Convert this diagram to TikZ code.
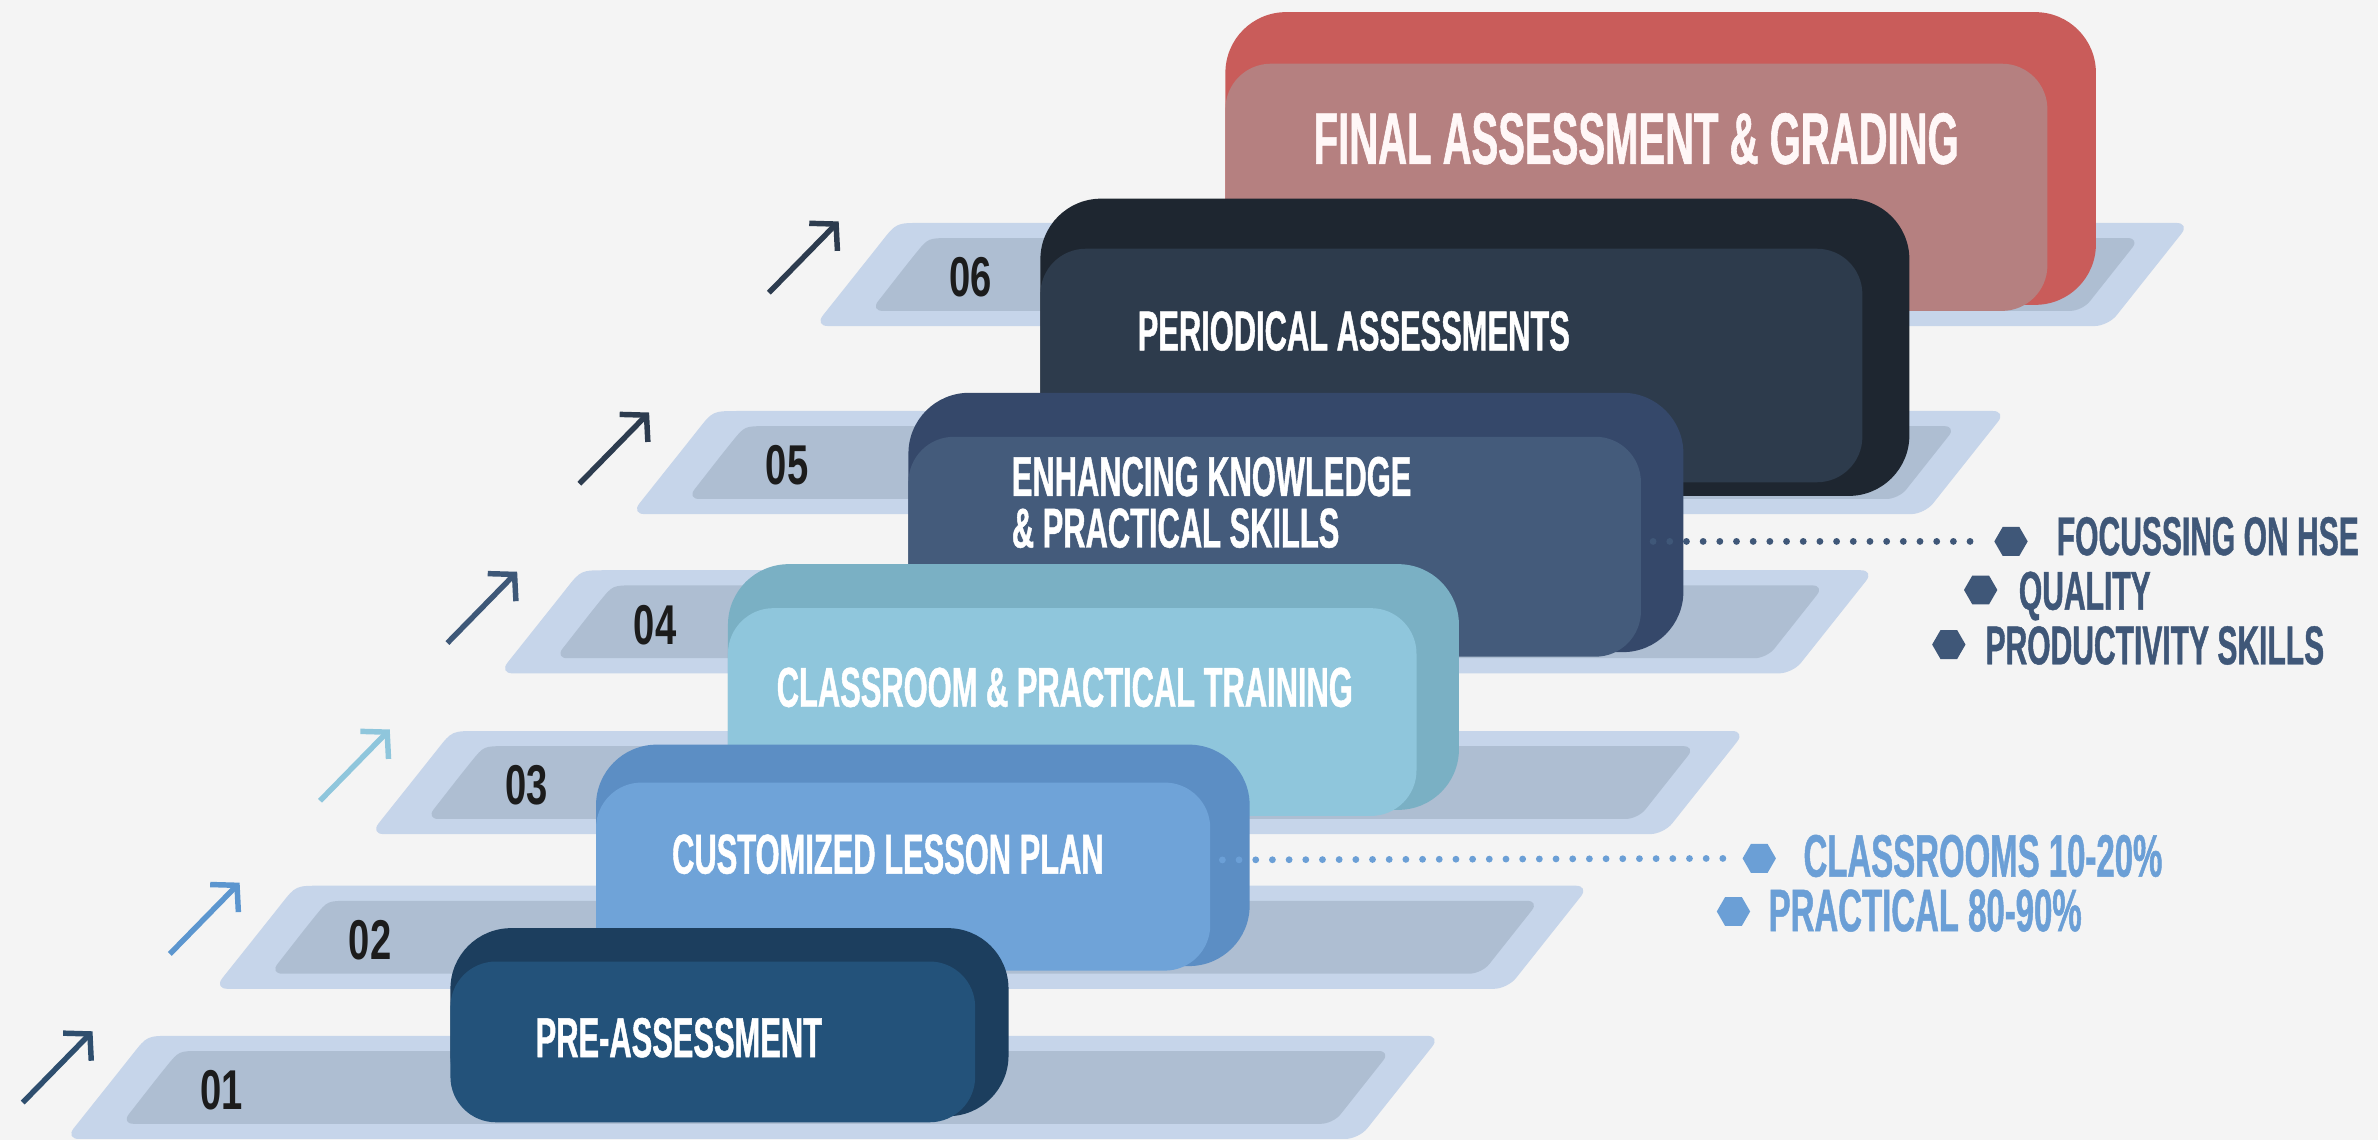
\documentclass[tikz,border=0pt]{standalone}
\usepackage{fontspec}
\newfontfamily\condfont{Liberation Sans}[FakeStretch=0.55, FakeBold=0.8]
\newfontfamily\numfont{Liberation Sans}[FakeStretch=0.68]
\usetikzlibrary{arrows.meta,shapes.geometric}
\definecolor{bgc}{HTML}{F4F4F4}
\definecolor{plateA}{HTML}{C6D5EA}
\definecolor{plateB}{HTML}{AEBED2}
\definecolor{numc}{HTML}{1C1C1C}
\definecolor{bAf}{HTML}{23527A}\definecolor{bAb}{HTML}{1C3E5E}
\definecolor{bBf}{HTML}{6FA3D8}\definecolor{bBb}{HTML}{5C8EC4}
\definecolor{bCf}{HTML}{8FC6DC}\definecolor{bCb}{HTML}{7AB0C4}
\definecolor{bDf}{HTML}{445B7B}\definecolor{bDb}{HTML}{35486A}
\definecolor{bEf}{HTML}{2D3B4C}\definecolor{bEb}{HTML}{1E2630}
\definecolor{bFf}{HTML}{B58080}\definecolor{bFb}{HTML}{C95C5A}
\definecolor{sideA}{HTML}{3F5778}
\definecolor{sideB}{HTML}{6B9FD6}
\definecolor{arA}{HTML}{2E4E6E}
\definecolor{arB}{HTML}{5C96CF}
\definecolor{arC}{HTML}{8FC6DC}
\definecolor{arD}{HTML}{3E5878}
\definecolor{arE}{HTML}{2D3C4F}
\tikzset{
  plateout/.style={fill=plateA, rounded corners=9pt},
  platein/.style={fill=plateB, rounded corners=8pt},
  numlab/.style={font=\numfont\bfseries\fontsize{37}{37}\selectfont, text=numc, inner sep=0pt},
  boxlab/.style={font=\condfont\bfseries\fontsize{37}{37}\selectfont, text=white, inner sep=0pt, anchor=base west, text height=27pt, text depth=0pt},
  biglab/.style={font=\condfont\bfseries\fontsize{48}{48}\selectfont, text=white!97!red, inner sep=0pt, anchor=base west, text height=35pt, text depth=0pt},
  sidelab/.style={font=\condfont\bfseries\fontsize{36}{36}\selectfont, inner sep=0pt, anchor=base west, text height=26pt, text depth=0pt},
  sidelabB/.style={font=\condfont\bfseries\fontsize{39.5}{39.5}\selectfont, inner sep=0pt, anchor=base west, text height=28pt, text depth=0pt},
  hexbullet/.style={regular polygon, regular polygon sides=6, minimum size=22pt, inner sep=0pt, draw=none},
  stepar/.style={line width=3.6pt, -{Straight Barb[length=12pt,width=26pt]}},
  dotline/.style={line width=4.5pt, line cap=round, dash pattern=on 0pt off 11pt},
}
% plate: name, xL (bottom left), yT (top), label
\newcommand{\stepplate}[4]{%
  \fill[plateout] (#2+300,#3+68) -- (#2,#3+68) -- (#2+54-15,#3+19)
     .. controls (#2+54,#3) .. (#2+54+26,#3) -- (#2+907,#3) -- (#2+853,#3+68) -- cycle;
  \fill[platein] (#2+300,#3+58) -- (#2+37,#3+58) -- (#2+75-13,#3+10+16)
     .. controls (#2+75,#3+10) .. (#2+75+22,#3+10) -- (#2+874,#3+10) -- (#2+836,#3+58) -- cycle;
  \node[numlab] (#1) at (#2+103,#3+36) {#4};
}
% box: L, R, T, B (front), back top, back right, back bottom, colour prefix
\newcommand{\stepbox}[8]{%
  \fill[#8b, rounded corners=40pt] (#1,#5) rectangle (#6,#7);
  \fill[#8f, rounded corners=30pt] (#1,#3) rectangle (#2,#4);
}
\begin{document}
\begin{tikzpicture}[x=1pt,y=-1pt]
\useasboundingbox (0,0) rectangle (1568,752);
\fill[bgc] (0,0) rectangle (1568,752);

% step 6
\stepplate{n6}{537}{147}{06}
\stepbox{808}{1350}{42}{205}{8}{1382}{201}{bF}
\node[biglab] (t6) at (866,108) {FINAL ASSESSMENT \& GRADING};

% step 5
\stepplate{n5}{416}{271}{05}
\stepbox{686}{1228}{164}{318}{131}{1259}{327}{bE}
\node[boxlab] (t5) at (750,231) {PERIODICAL ASSESSMENTS};

% step 4
\stepplate{n4}{329}{376}{04}
\stepbox{599}{1082}{288}{433}{259}{1110}{430}{bD}
\node[boxlab] (t4a) at (667,327) {ENHANCING KNOWLEDGE};
\node[boxlab] (t4b) at (667,361) {\& PRACTICAL SKILLS};

% step 3
\stepplate{n3}{244}{482}{03}
\stepbox{480}{934}{401}{538}{372}{962}{534}{bC}
\node[boxlab] (t3) at (512,466) {CLASSROOM \& PRACTICAL TRAINING};

% step 2
\stepplate{n2}{141}{584}{02}
\stepbox{393}{798}{516}{640}{491}{824}{637}{bB}
\node[boxlab] (t2) at (443,576) {CUSTOMIZED LESSON PLAN};

% step 1
\stepplate{n1}{43}{683}{01}
\stepbox{297}{643}{634}{740}{612}{665}{736}{bA}
\node[boxlab] (t1) at (353,697) {PRE-ASSESSMENT};

% arrows
\coordinate (a1e) at (61,680);   \coordinate (a1s) at (15,727);
\coordinate (a2e) at (158,582);  \coordinate (a2s) at (112,629);
\coordinate (a3e) at (257,481);  \coordinate (a3s) at (211,528);
\coordinate (a4e) at (341,377);  \coordinate (a4s) at (295,424);
\coordinate (a5e) at (428,272);  \coordinate (a5s) at (382,319);
\coordinate (a6e) at (553,146);  \coordinate (a6s) at (507,193);
\draw[stepar, draw=arA] (a1s) -- (a1e);
\draw[stepar, draw=arB] (a2s) -- (a2e);
\draw[stepar, draw=arC] (a3s) -- (a3e);
\draw[stepar, draw=arD] (a4s) -- (a4e);
\draw[stepar, draw=arE] (a5s) -- (a5e);
\draw[stepar, draw=arE] (a6s) -- (a6e);

% side notes, upper group
\node[hexbullet, fill=sideA] (h1) at (1326,357) {};
\node[hexbullet, fill=sideA] (h2) at (1306,389) {};
\node[hexbullet, fill=sideA] (h3) at (1285,425) {};
\node[sidelab, text=sideA] (s1) at (1356,366) {FOCUSSING ON HSE};
\node[sidelab, text=sideA] (s2) at (1331,402) {QUALITY};
\node[sidelab, text=sideA] (s3) at (1309,438) {PRODUCTIVITY SKILLS};
\coordinate (d1) at (1090,357);
\draw[dotline, draw=sideA] (d1) -- ([xshift=-14pt]h1.west);

% side notes, lower group
\node[hexbullet, fill=sideB] (h4) at (1160,566) {};
\node[hexbullet, fill=sideB] (h5) at (1143,601) {};
\node[sidelabB, text=sideB] (s4) at (1189,578) {CLASSROOMS 10-20\%};
\node[sidelabB, text=sideB] (s5) at (1166,614) {PRACTICAL 80-90\%};
\coordinate (d2) at (806,567);
\draw[dotline, draw=sideB] (d2) -- ([xshift=-8pt]h4.west);
\end{tikzpicture}
\end{document}
